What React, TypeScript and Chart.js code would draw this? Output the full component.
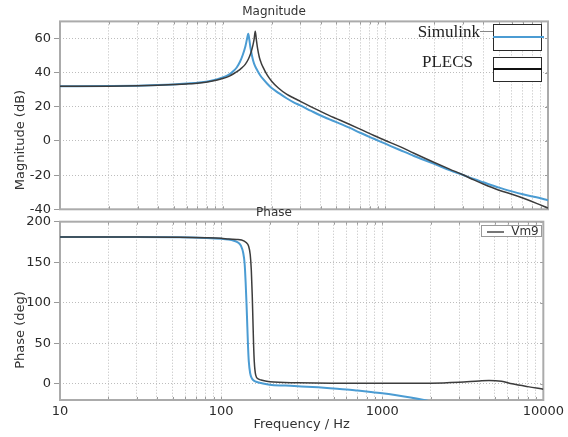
import React, { useEffect, useRef } from 'react';
import { Chart, registerables } from 'chart.js';

Chart.register(...registerables);

// ---------- data ----------
const simMagFreq = [10, 20, 30, 40, 50, 60, 72, 85, 100, 110, 116, 122, 128, 133, 138, 141, 143.7, 146, 148, 151, 154, 158, 164, 170, 177, 188, 200, 220, 247, 275, 300, 350, 400, 450, 500, 600, 700, 850, 1000, 1230, 1500, 2000, 2500, 3000, 3500, 4000, 5000, 6000, 7000, 8500, 10000];
const simMag = [32.0, 32.2, 32.4, 32.7, 33.1, 33.6, 34.2, 35.3, 37.2, 39.0, 40.8, 43.0, 46.5, 50.5, 55.5, 59.5, 62.8, 59, 55, 50.5, 47, 44, 41, 38.5, 36.3, 33.5, 31, 28.2, 25, 22.5, 20.8, 17.6, 14.9, 12.8, 11.0, 7.8, 4.8, 1.3, -1.6, -5.3, -8.8, -13.4, -17.2, -19.9, -22.3, -24.2, -27.3, -29.5, -31.2, -33.0, -34.7];

const plecsMagFreq = [10, 20, 30, 40, 50, 60, 72, 85, 100, 110, 116, 125, 131, 138, 144, 149, 153, 156, 158.6, 161, 164, 168, 172, 177, 188, 200, 220, 247, 275, 300, 350, 400, 450, 500, 600, 700, 850, 1000, 1230, 1500, 2000, 2500, 3000, 3500, 4000, 5000, 6000, 7000, 8500, 10000];
const plecsMag = [32.0, 32.1, 32.3, 32.6, 33.0, 33.4, 34.0, 35.0, 36.6, 38.0, 39.2, 41.2, 42.8, 45.0, 48.0, 51.5, 55.5, 59.5, 64.3, 59.5, 54, 49, 46, 43.2, 38.5, 35.0, 31.0, 27.4, 25.0, 23.2, 20.0, 17.3, 15.0, 13.1, 9.8, 6.9, 3.2, 0.3, -3.3, -7.2, -12.6, -16.6, -19.8, -22.8, -25.2, -28.8, -31.2, -33.4, -36.5, -39.3];

const simPhaseFreq = [10, 30, 55, 80, 100, 111, 120, 128, 133, 137, 140, 142, 143.7, 145.5, 147, 148.5, 151.5, 155, 158, 165, 177, 200, 250, 300, 400, 500, 600, 700, 850, 1000, 1200, 1500, 1880, 2000];
const simPhase = [181.0, 181.0, 180.8, 180, 179, 178, 176.5, 174, 170, 162, 148, 125, 100, 70, 45, 28, 13, 7, 4.6, 2.5, 1.0, -1.2, -2.2, -3.0, -4.4, -5.8, -7, -8.3, -10, -11.6, -13.8, -17, -20.7, -21.8];

const plecsPhaseFreq = [10, 30, 55, 80, 100, 111, 125, 134, 143.7, 148, 151.6, 154, 156, 157.5, 159, 160.6, 164, 170, 177, 200, 300, 500, 1000, 2000, 3000, 4000, 4600, 5500, 6400, 8000, 10000];
const plecsPhase = [181.0, 181.0, 180.8, 180.2, 179.5, 178.7, 178, 177.5, 174, 170, 159.5, 140, 110, 80, 50, 28, 10.7, 6, 4.6, 2.5, 1.3, 0.8, 0.6, 0.7, 1.8, 3.4, 4.0, 3, 0, -3.5, -6.6];

const xTickValues = [10, 20, 30, 40, 50, 60, 70, 80, 90, 100, 200, 300, 400, 500, 600, 700, 800, 900, 1000, 2000, 3000, 4000, 5000, 6000, 7000, 8000, 9000, 10000];
const xTickLabels = ['10', '100', '1000', '10000'];
const magTicks = [-40, -20, 0, 20, 40, 60];
const phaseTicks = [0, 50, 100, 150, 200];

// ---------- styles ----------
const FONT = 'DejaVu Sans';
const BLUE = '#4b9cd3';
const DARK = '#3c3c3c';
const GRID = '#bdbdbd';

const pts = (xs: number[], ys: number[]) => xs.map((x, i) => ({ x, y: ys[i] }));

const framePlugin = {
  id: 'frame',
  beforeDatasetsDraw(chart: any) {
    const { ctx, chartArea: a, scales } = chart;
    ctx.save();
    ctx.strokeStyle = '#9a9a9a';
    ctx.lineWidth = 1;
    ctx.beginPath();
    for (const t of scales.x.ticks) {
      const px = Math.round(scales.x.getPixelForValue(t.value)) + 0.5;
      ctx.moveTo(px, a.bottom);
      ctx.lineTo(px, a.bottom - 3);
      ctx.moveTo(px, a.top);
      ctx.lineTo(px, a.top + 3);
    }
    for (const t of scales.y.ticks) {
      const py = Math.round(scales.y.getPixelForValue(t.value)) + 0.5;
      ctx.moveTo(a.right, py);
      ctx.lineTo(a.right - 3, py);
    }
    ctx.stroke();
    ctx.strokeStyle = '#ababab';
    ctx.lineWidth = 2;
    ctx.strokeRect(a.left, a.top, a.right - a.left, a.bottom - a.top);
    ctx.restore();
  },
};

function makeOptions(kind: 'mag' | 'phase') {
  const isMag = kind === 'mag';
  const yTicks = isMag ? magTicks : phaseTicks;
  return {
    responsive: false,
    animation: false,
    layout: { padding: { left: 0, right: 20, top: 0, bottom: 0 } },
    plugins: {
      legend: { display: false },
      tooltip: { enabled: false },
      title: {
        display: true,
        text: isMag ? 'Magnitude' : 'Phase',
        color: '#333',
        font: { family: FONT, size: 12, weight: 'normal' },
        padding: isMag ? { top: 5, bottom: 2 } : { top: 3.1, bottom: 1.2 },
      },
    },
    scales: {
      x: {
        type: 'logarithmic',
        min: 10,
        max: 10000,
        afterBuildTicks: (s: any) => {
          s.ticks = xTickValues.map((v) => ({ value: v }));
        },
        afterFit: (s: any) => {
          s.height = isMag ? 12.7 : 37;
        },
        ticks: {
          display: !isMag,
          autoSkip: false,
          maxRotation: 0,
          padding: 4,
          color: '#2a2a2a',
          font: { family: FONT, size: 13 },
          callback: (v: any) => (xTickLabels.includes(String(v)) ? String(v) : ''),
        },
        grid: { color: GRID, drawTicks: false },
        border: { display: false, dash: [1, 2] },
        title: {
          display: !isMag,
          text: 'Frequency / Hz',
          color: '#333',
          font: { family: FONT, size: 13 },
          padding: { top: 0, bottom: 4.2 },
        },
      },
      y: {
        min: isMag ? -40 : -20,
        max: isMag ? 70 : 200,
        afterBuildTicks: (s: any) => {
          s.ticks = yTicks.map((v) => ({ value: v }));
        },
        afterFit: (s: any) => {
          s.width = 60;
        },
        ticks: { color: '#2a2a2a', font: { family: FONT, size: 13 }, padding: 3 },
        grid: { color: GRID, tickColor: '#999', tickLength: 6 },
        border: { display: false, dash: [1, 2] },
      },
    },
  } as any;
}

function PlotCanvas(props: { kind: 'mag' | 'phase'; top: number; height: number }) {
  const ref = useRef<HTMLCanvasElement | null>(null);
  useEffect(() => {
    if (!ref.current) return;
    const isMag = props.kind === 'mag';
    const chart = new Chart(ref.current, {
      type: 'line',
      data: {
        datasets: [
          {
            label: 'Simulink',
            data: isMag ? pts(simMagFreq, simMag) : pts(simPhaseFreq, simPhase),
            borderColor: BLUE,
            borderWidth: 2,
            pointRadius: 0,
            cubicInterpolationMode: 'monotone',
            order: 1,
          },
          {
            label: 'PLECS',
            data: isMag ? pts(plecsMagFreq, plecsMag) : pts(plecsPhaseFreq, plecsPhase),
            borderColor: DARK,
            borderWidth: 1.5,
            pointRadius: 0,
            cubicInterpolationMode: 'monotone',
            order: 0,
          },
        ],
      },
      options: makeOptions(props.kind),
      plugins: [framePlugin],
    } as any);
    return () => chart.destroy();
  }, [props.kind]);
  return (
    <canvas
      ref={ref}
      width={568}
      height={props.height}
      style={{ position: 'absolute', left: 0, top: props.top, width: 568, height: props.height }}
    />
  );
}

const yTitleStyle: React.CSSProperties = {
  position: 'absolute',
  left: 19,
  transform: 'translate(-50%, -50%) rotate(-90deg)',
  fontFamily: FONT,
  fontSize: 13,
  color: '#333',
  whiteSpace: 'nowrap',
  lineHeight: '15px',
};

export default function App() {
  return (
    <div
      style={{
        position: 'fixed',
        left: 0,
        top: 0,
        width: 568,
        height: 437,
        background: '#fff',
        overflow: 'hidden',
      }}
    >
      <PlotCanvas kind="mag" top={0} height={222} />
      <PlotCanvas kind="phase" top={203} height={234} />

      <div style={{ ...yTitleStyle, top: 139.5 }}>Magnitude (dB)</div>
      <div style={{ ...yTitleStyle, top: 330 }}>Phase (deg)</div>

      {/* top legend */}
      <div
        style={{
          position: 'absolute',
          right: 568 - 480,
          top: 31,
          transform: 'translateY(-50%)',
          fontFamily: 'Liberation Serif',
          fontSize: 17,
          color: '#222',
          lineHeight: '17px',
          whiteSpace: 'nowrap',
        }}
      >
        Simulink
      </div>
      <div style={{ position: 'absolute', left: 480, top: 31, width: 13, height: 1, background: '#888' }} />
      <div
        style={{
          position: 'absolute',
          left: 493,
          top: 24,
          width: 49,
          height: 27,
          boxSizing: 'border-box',
          border: '1.5px solid #2a2a2a',
          background: '#fff',
        }}
      />
      <div style={{ position: 'absolute', left: 493, top: 35.7, width: 51, height: 2, background: BLUE }} />

      <div
        style={{
          position: 'absolute',
          right: 568 - 473,
          top: 60.7,
          transform: 'translateY(-50%)',
          fontFamily: 'Liberation Serif',
          fontSize: 17,
          color: '#222',
          lineHeight: '17px',
          whiteSpace: 'nowrap',
        }}
      >
        PLECS
      </div>
      <div
        style={{
          position: 'absolute',
          left: 493,
          top: 56.7,
          width: 49,
          height: 25,
          boxSizing: 'border-box',
          border: '1.5px solid #2a2a2a',
          background: '#fff',
        }}
      />
      <div style={{ position: 'absolute', left: 493, top: 68.3, width: 49, height: 2, background: '#111' }} />

      {/* bottom legend */}
      <div
        style={{
          position: 'absolute',
          left: 480.7,
          top: 225,
          width: 61.3,
          height: 12.3,
          boxSizing: 'border-box',
          border: '1px solid #999',
          background: '#fff',
        }}
      >
        <div style={{ position: 'absolute', left: 5, top: 5, width: 17, height: 1.5, background: '#777' }} />
        <div
          style={{
            position: 'absolute',
            left: 29.5,
            top: -1,
            fontFamily: FONT,
            fontSize: 12,
            lineHeight: '12px',
            color: '#333',
          }}
        >
          Vm9
        </div>
      </div>
    </div>
  );
}
